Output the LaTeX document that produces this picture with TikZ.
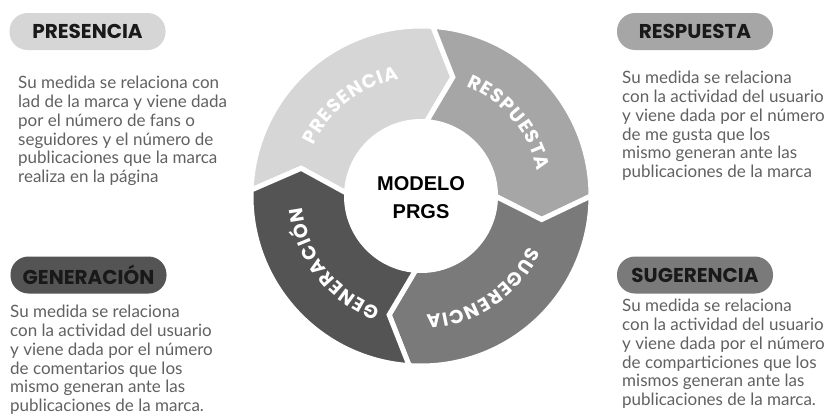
\documentclass[tikz,border=0pt]{standalone}
\usepackage{fontspec}
\setmainfont{Lato}
\newfontfamily\pillfont{Poppins}
\newfontfamily\titlefont{Liberation Sans}
\usepackage{tikz}
\usetikzlibrary{decorations.text}
\colorlet{presencia}{black!16}
\colorlet{respuesta}{black!35}
\colorlet{sugerencia}{black!52}
\colorlet{generacion}{black!67}
\colorlet{bodytext}{black!62}
\newcommand\ringfont{\pillfont\bfseries\fontsize{19}{19}\selectfont\kern1pt}
\tikzset{
  pill/.style={rounded corners=18pt, minimum width=156pt, minimum height=37pt, inner sep=0pt,
    font=\pillfont\bfseries\fontsize{20}{20}\selectfont, text=black!90},
  body/.style={anchor=north west, align=left, inner sep=0pt, text=bodytext,
    font=\fontsize{17}{18.8}\selectfont},
  ringseg/.style={draw=white, line width=5pt, line join=miter},
  titulo/.style={align=center, inner sep=0pt, font=\titlefont\bfseries\fontsize{20}{28}\selectfont},
}

\begin{document}
\begin{tikzpicture}[x=1pt,y=1pt]
\useasboundingbox[fill=white] (0,0) rectangle (828,-418);
% rueda
\begin{scope}[shift={(421,-196)}]
\foreach \nom/\a/\b in {presencia/178/86, respuesta/86/0, sugerencia/0/-94, generacion/-94/-182}
{
  \filldraw[ringseg, fill=\nom] (\a:170) arc[start angle=\a, end angle=\b, radius=170]
    -- ({\b-11}:123) -- (\b:74) arc[start angle=\b, end angle=\a, radius=74]
    -- ({\a-11}:123) -- cycle;
}
\node[circle, fill=white, minimum size=154pt, inner sep=0pt] (centro) at (0,0) {};
\node[titulo] (modelo) at (0,-2) {MODELO\\PRGS};
\foreach \mid/\txt in {128/PRESENCIA, 40/RESPUESTA, -56/SUGERENCIA, -142/GENERACIÓN}
{
  \path[decorate, decoration={text along path, text align=center, text color=white,
    text/.expanded={|\noexpand\ringfont|\txt}}]
    ({\mid+70}:119) arc[start angle=\mid+70, end angle=\mid-70, radius=119];
}
\end{scope}
% etiquetas
\foreach \nom/\pos/\lab in {presencia/{87.5,-31.5}/PRESENCIA, respuesta/{695,-31.5}/RESPUESTA,
  generacion/{88.5,-275}/GENERACIÓN, sugerencia/{695,-275}/SUGERENCIA}
  \node[pill, fill=\nom] (pill\nom) at (\pos) {\lab};
\node[body] (txtpresencia) at (18,-76) {Su medida se relaciona con\\lad de la marca y viene dada\\por el número de fans o\\seguidores y el número de\\publicaciones que la marca\\realiza en la página};
\node[body] (txtrespuesta) at (622,-71) {Su medida se relaciona\\con la actividad del usuario\\y viene dada por el número\\de me gusta que los\\mismo generan ante las\\publicaciones de la marca};
\node[body] (txtgeneracion) at (10,-305) {Su medida se relaciona\\con la actividad del usuario\\y viene dada por el número\\de comentarios que los\\mismo generan ante las\\publicaciones de la marca.};
\node[body] (txtsugerencia) at (622,-299) {Su medida se relaciona\\con la actividad del usuario\\y viene dada por el número\\de comparticiones que los\\mismos generan ante las\\publicaciones de la marca.};
\end{tikzpicture}
\end{document}
